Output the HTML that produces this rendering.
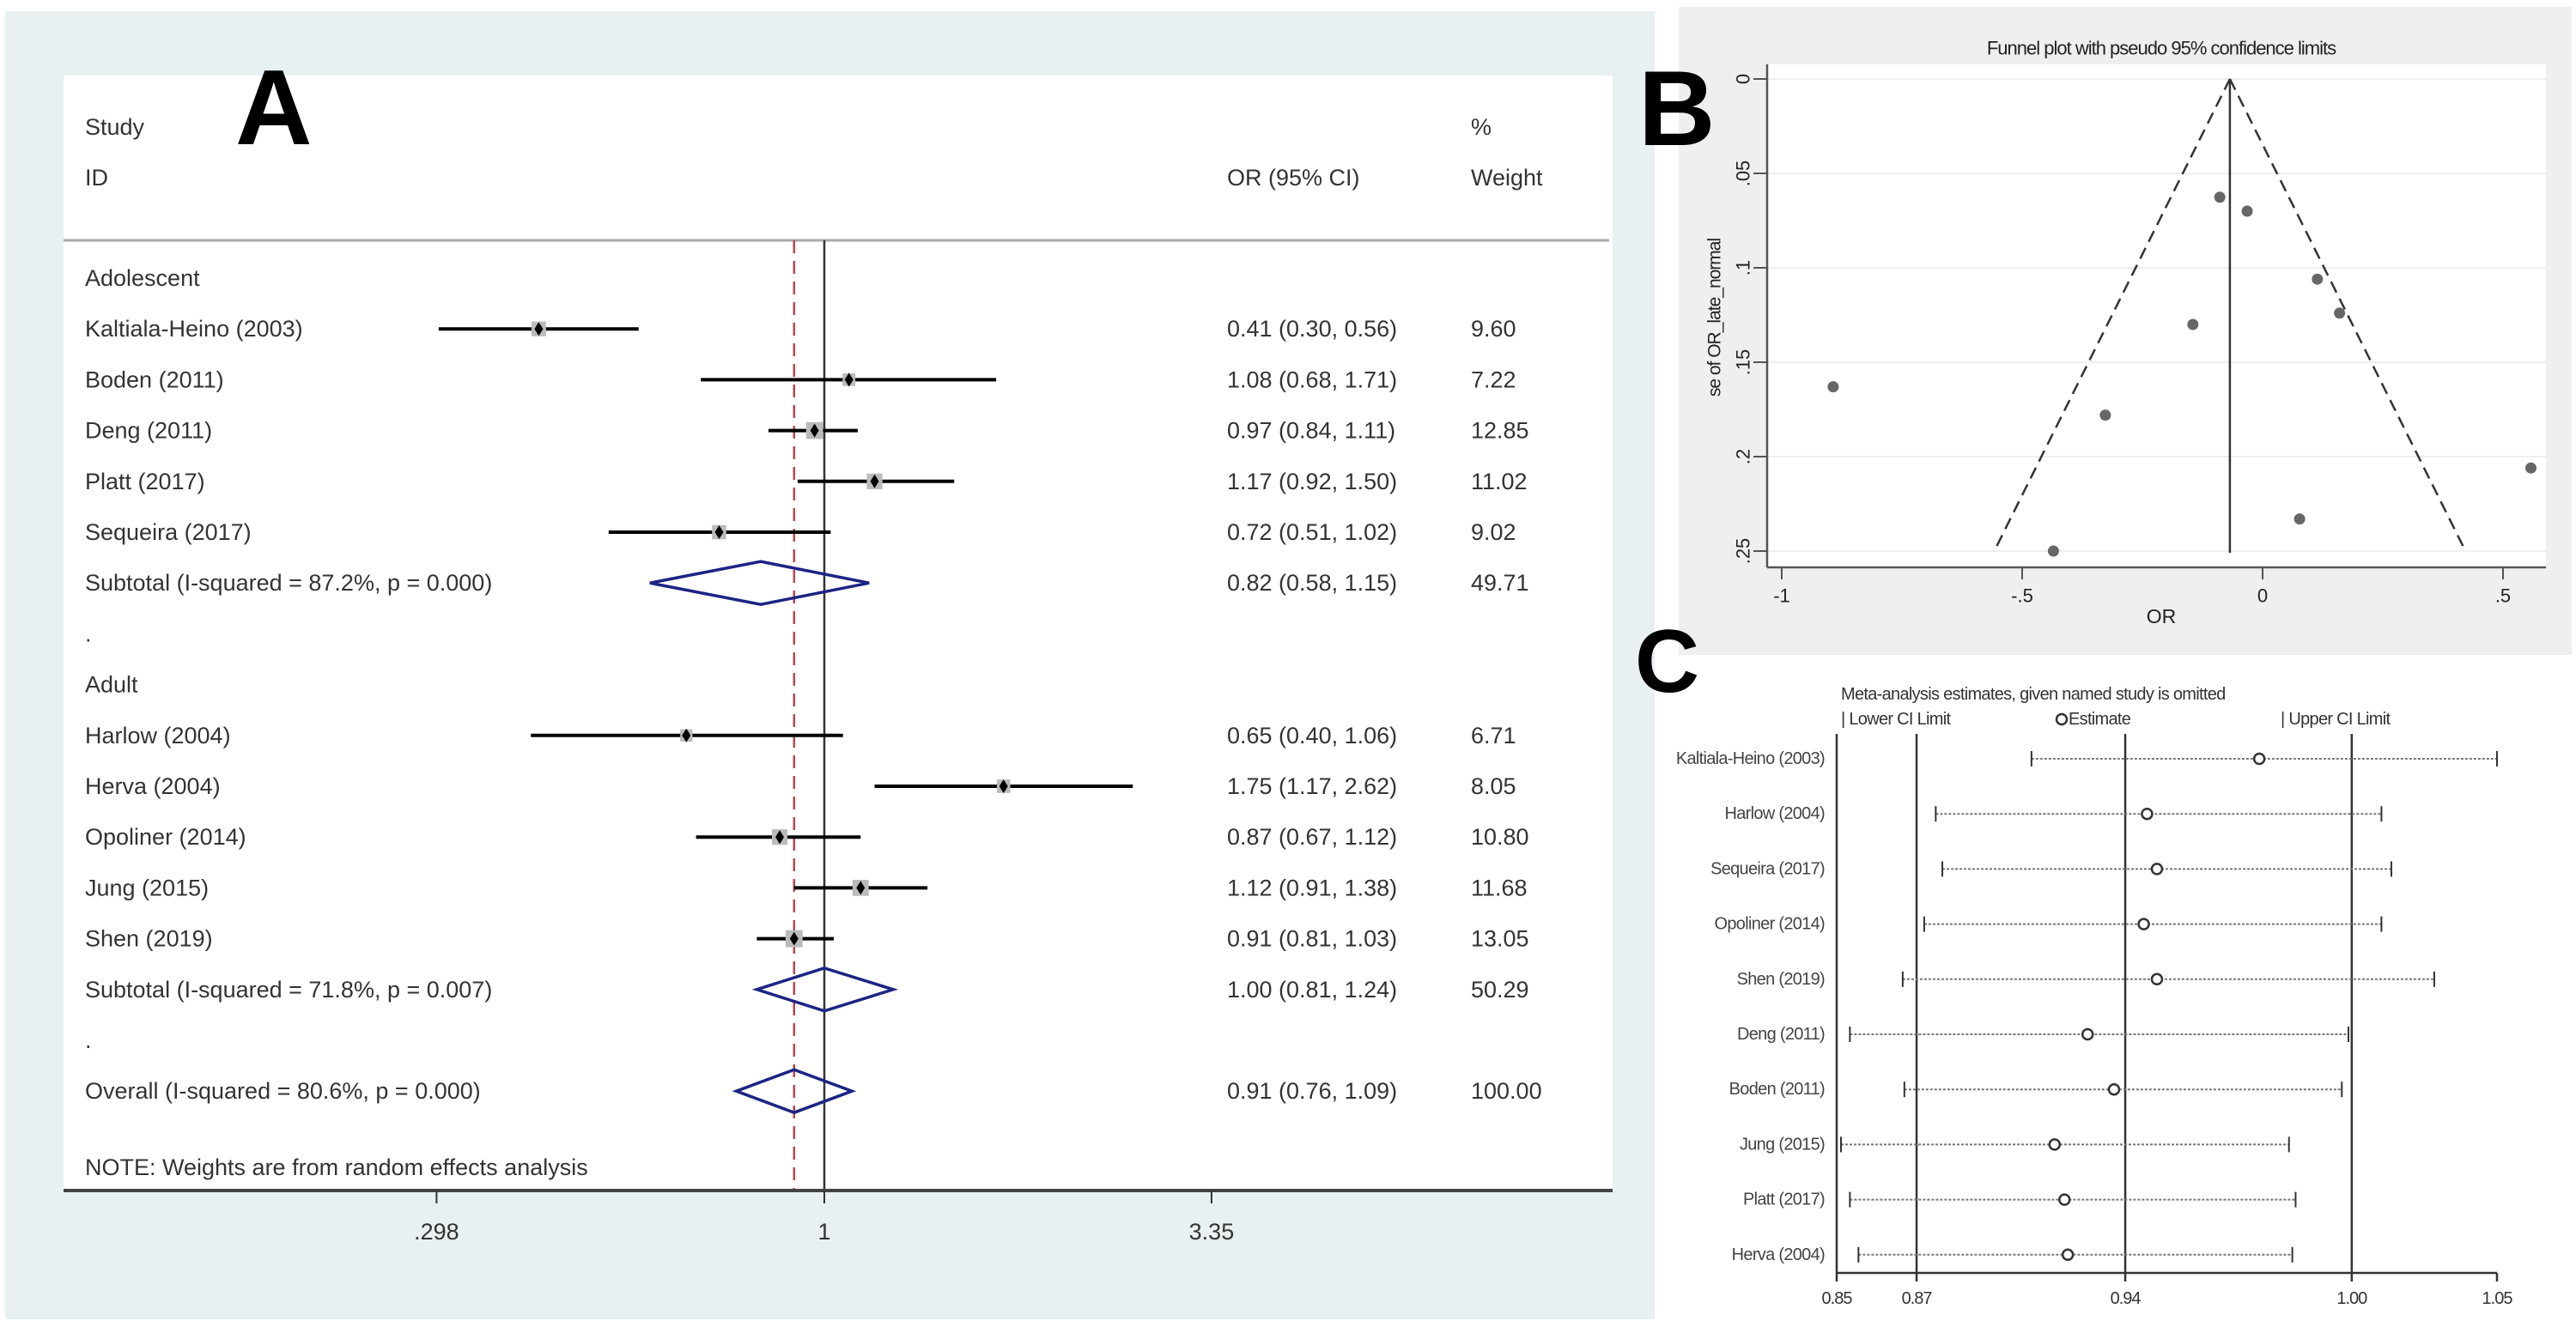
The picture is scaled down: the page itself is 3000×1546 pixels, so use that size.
<!DOCTYPE html>
<html><head><meta charset="utf-8"><style>
html,body{margin:0;padding:0;background:#fff;}
svg{display:block;font-family:"Liberation Sans",Arial,sans-serif;}
</style></head><body>
<svg id="fig" width="3000" height="1546" viewBox="0 0 3000 1546" xmlns="http://www.w3.org/2000/svg">
<rect x="0" y="0" width="3000" height="1546" fill="#fff"/>
<rect x="6" y="13" width="1921" height="1524" fill="#e8f0f2"/>
<rect x="74" y="88" width="1804" height="1299" fill="#fff"/>
<text x="274" y="168" font-size="124" font-weight="bold" fill="#000">A</text>
<rect x="1955" y="8" width="1040" height="755" fill="#efefef"/>
<rect x="2058" y="75" width="907" height="586" fill="#fff"/>
<text x="1908" y="169" font-size="124" font-weight="bold" fill="#000">B</text>
<text x="1904" y="806" font-size="104" font-weight="bold" fill="#000">C</text>
<g id="forest"></g>
<g id="funnel"></g>
<g id="influence"></g>
</svg>
<script>
// ---------- Panel A data ----------
const rowLabels = ["Adolescent","Kaltiala-Heino (2003)","Boden (2011)","Deng (2011)","Platt (2017)","Sequeira (2017)","Subtotal  (I-squared = 87.2%, p = 0.000)",".","Adult","Harlow (2004)","Herva (2004)","Opoliner (2014)","Jung (2015)","Shen (2019)","Subtotal  (I-squared = 71.8%, p = 0.007)",".","Overall  (I-squared = 80.6%, p = 0.000)"];
const rowType = ["h","s","s","s","s","s","d","b","h","s","s","s","s","s","d","b","d"];
const orEst = [null,0.41,1.08,0.97,1.17,0.72,0.82,null,null,0.65,1.75,0.87,1.12,0.91,1.00,null,0.91];
const orLow = [null,0.30,0.68,0.84,0.92,0.51,0.58,null,null,0.40,1.17,0.67,0.91,0.81,0.81,null,0.76];
const orHigh = [null,0.56,1.71,1.11,1.50,1.02,1.15,null,null,1.06,2.62,1.12,1.38,1.03,1.24,null,1.09];
const weights = [null,9.60,7.22,12.85,11.02,9.02,49.71,null,null,6.71,8.05,10.80,11.68,13.05,50.29,null,100.00];
const forestTicks = [0.298,1,3.35];
const forestTickLabels = [".298","1","3.35"];
const overallRef = 0.91;

// ---------- Panel B data ----------
const funnelOR = [-0.089,-0.032,0.114,0.160,-0.145,-0.893,-0.327,0.558,0.077,-0.435];
const funnelSE = [0.0626,0.070,0.106,0.124,0.130,0.163,0.178,0.206,0.233,0.250];
const funnelCenter = -0.068;
const funnelXTicks = [-1,-0.5,0,0.5];
const funnelXLabels = ["-1","-.5","0",".5"];
const funnelYTicks = [0,0.05,0.1,0.15,0.2,0.25];
const funnelYLabels = ["0",".05",".1",".15",".2",".25"];

// ---------- Panel C data ----------
const omitStudies = ["Kaltiala-Heino (2003)","Harlow (2004)","Sequeira (2017)","Opoliner (2014)","Shen (2019)","Deng (2011)","Boden (2011)","Jung (2015)","Platt (2017)","Herva (2004)"];
const omitLow = [0.909,0.880,0.882,0.8765,0.870,0.854,0.8705,0.8513,0.854,0.8566];
const omitEst = [0.978,0.944,0.947,0.943,0.947,0.926,0.934,0.916,0.919,0.920];
const omitHigh = [1.050,1.015,1.018,1.015,1.031,1.005,1.003,0.987,0.989,0.988];
const omitTicks = [0.85,0.8742,0.9374,1.006,1.05];
const omitTickLabels = ["0.85","0.87","0.94","1.00","1.05"];

const NS="http://www.w3.org/2000/svg";
function mk(parent,tag,attrs,txt){const e=document.createElementNS(NS,tag);for(const k in attrs)e.setAttribute(k,attrs[k]);if(txt!==undefined)e.textContent=txt;parent.appendChild(e);return e;}

// ===== Panel A =====
const fg=document.getElementById('forest');
const fx=v=>960+373*Math.log(v);
const fy=i=>324+59.2*i;
const tc="#333";
const FS=27;
let t;
t=mk(fg,'text',{x:99,y:148,'font-size':FS,fill:tc,'dominant-baseline':'central'},"Study");


t=mk(fg,'text',{x:99,y:207,'font-size':FS,fill:tc,'dominant-baseline':'central'},"ID");


t=mk(fg,'text',{x:1429,y:207,'font-size':FS,fill:tc,'dominant-baseline':'central'},"OR (95% CI)");


t=mk(fg,'text',{x:1713,y:148,'font-size':FS,fill:tc,'dominant-baseline':'central'},"%");


t=mk(fg,'text',{x:1713,y:207,'font-size':FS,fill:tc,'dominant-baseline':'central'},"Weight");


t=mk(fg,'line',{x1:74,y1:280,x2:1874,y2:280,stroke:'#aaa','stroke-width':3});


t=mk(fg,'line',{x1:fx(1),y1:280,x2:fx(1),y2:1387,stroke:'#333','stroke-width':2.5});


t=mk(fg,'line',{x1:fx(overallRef),y1:280,x2:fx(overallRef),y2:1387,stroke:'#b5484f','stroke-width':2.5,'stroke-dasharray':'15 9'});


rowLabels.forEach((lab,i)=>{
  const y=fy(i);
  const e=mk(fg,'text',{x:99,y:y,'font-size':FS,fill:tc,'dominant-baseline':'central'},lab);
  
  
  if(orEst[i]===null) return;
  const ci=mk(fg,'text',{x:1429,y:y,'font-size':FS,fill:tc,'dominant-baseline':'central'},orEst[i].toFixed(2)+" ("+orLow[i].toFixed(2)+", "+orHigh[i].toFixed(2)+")");
  
  
  const w=mk(fg,'text',{x:1713,y:y,'font-size':FS,fill:tc,'dominant-baseline':'central'},weights[i].toFixed(2));
  
  
  if(rowType[i]==='s'){
    const l=mk(fg,'line',{x1:fx(orLow[i]),y1:y,x2:fx(orHigh[i]),y2:y,stroke:'#000','stroke-width':4});
    
    
    const s=Math.sqrt(weights[i])*5.5;
    const sq=mk(fg,'rect',{x:fx(orEst[i])-s/2,y:y-s/2,width:s,height:s,fill:'#bbb'});
    
    
    const cx=fx(orEst[i]);
    const d=mk(fg,'polygon',{points:`${cx-5},${y} ${cx},${y-8} ${cx+5},${y} ${cx},${y+8}`,fill:'#000'});
    
    
  } else {
    const a=fx(orLow[i]),b=fx(orEst[i]),c=fx(orHigh[i]);
    const d=mk(fg,'polygon',{points:`${a},${y} ${b},${y-25} ${c},${y} ${b},${y+25}`,fill:'none',stroke:'#1c2484','stroke-width':3.5});
    
    
  }
});
t=mk(fg,'text',{x:99,y:1360,'font-size':FS,fill:tc,'dominant-baseline':'central'},"NOTE: Weights are from random effects analysis");


t=mk(fg,'line',{x1:74,y1:1387,x2:1878,y2:1387,stroke:'#444','stroke-width':4});


forestTicks.forEach((v,i)=>{
  const tk=mk(fg,'line',{x1:fx(v),y1:1387,x2:fx(v),y2:1402,stroke:'#333','stroke-width':2});
  
  
  const tl=mk(fg,'text',{x:fx(v),y:1435,'font-size':FS,fill:tc,'text-anchor':'middle','dominant-baseline':'central'},forestTickLabels[i]);
  
  
});

// ===== Panel B =====
const bg=document.getElementById('funnel');
const bx=v=>2635+560*v;
const by=s=>92+2200*s;
t=mk(bg,'text',{x:2517,y:56,'font-size':22,fill:'#222','text-anchor':'middle','dominant-baseline':'central','letter-spacing':'-1'},"Funnel plot with pseudo 95% confidence limits");


funnelYTicks.forEach((v,i)=>{
  const g=mk(bg,'line',{x1:2058,y1:by(v),x2:2965,y2:by(v),stroke:'#eee','stroke-width':2});
  
  
  const tk=mk(bg,'line',{x1:2042,y1:by(v),x2:2058,y2:by(v),stroke:'#555','stroke-width':2});
  
  
  const tl=mk(bg,'text',{x:2030,y:by(v),'font-size':22,fill:'#222','text-anchor':'middle','dominant-baseline':'central',transform:`rotate(-90 2030 ${by(v)})`},funnelYLabels[i]);
  
  
});
funnelXTicks.forEach((v,i)=>{
  const tk=mk(bg,'line',{x1:bx(v),y1:661,x2:bx(v),y2:675,stroke:'#555','stroke-width':2});
  
  
  const tl=mk(bg,'text',{x:bx(v),y:694,'font-size':22,fill:'#222','text-anchor':'middle','dominant-baseline':'central'},funnelXLabels[i]);
  
  
});
t=mk(bg,'line',{x1:2058,y1:75,x2:2058,y2:661,stroke:'#555','stroke-width':2.5});


t=mk(bg,'line',{x1:2058,y1:661,x2:2965,y2:661,stroke:'#555','stroke-width':2.5});


t=mk(bg,'text',{x:2517,y:718,'font-size':23,fill:'#222','text-anchor':'middle','dominant-baseline':'central'},"OR");


t=mk(bg,'text',{x:1997,y:370,'font-size':21,fill:'#222','text-anchor':'middle','dominant-baseline':'central',transform:'rotate(-90 1997 370)','letter-spacing':'-1'},"se of OR_late_normal");


const seMax=0.25;
t=mk(bg,'line',{x1:bx(funnelCenter),y1:by(0),x2:bx(funnelCenter-1.96*seMax),y2:by(seMax),stroke:'#333','stroke-width':2.5,'stroke-dasharray':'14 8'});


t=mk(bg,'line',{x1:bx(funnelCenter),y1:by(0),x2:bx(funnelCenter+1.96*seMax),y2:by(seMax),stroke:'#333','stroke-width':2.5,'stroke-dasharray':'14 8'});


t=mk(bg,'line',{x1:bx(funnelCenter),y1:by(0),x2:bx(funnelCenter),y2:by(seMax)+2,stroke:'#333','stroke-width':2.5});


funnelOR.forEach((v,i)=>{
  const c=mk(bg,'circle',{cx:bx(v),cy:by(funnelSE[i]),r:6.5,fill:'#666'});
  
  
});

// ===== Panel C =====
const cg=document.getElementById('influence');
const cx=v=>2139+(v-0.85)*3845;
const cy=i=>884+64.2*i;
const CF=20;
t=mk(cg,'text',{x:2144,y:809,'font-size':CF,fill:'#333','dominant-baseline':'central','letter-spacing':'-0.7'},"Meta-analysis estimates, given named study is omitted");


t=mk(cg,'text',{x:2144,y:838,'font-size':CF,fill:'#333','dominant-baseline':'central','letter-spacing':'-0.7'},"| Lower CI Limit");


t=mk(cg,'circle',{cx:2401,cy:838,r:6,fill:'none',stroke:'#333','stroke-width':2.5});


t=mk(cg,'text',{x:2409,y:838,'font-size':CF,fill:'#333','dominant-baseline':'central','letter-spacing':'-0.7'},"Estimate");


t=mk(cg,'text',{x:2656,y:838,'font-size':CF,fill:'#333','dominant-baseline':'central','letter-spacing':'-0.7'},"| Upper CI Limit");


omitTicks.forEach((v,i)=>{
  if(i>0&&i<4){
    const l=mk(cg,'line',{x1:cx(v),y1:855,x2:cx(v),y2:1483,stroke:'#333','stroke-width':2.5});
    
    
  }
  const tk=mk(cg,'line',{x1:cx(v),y1:1483,x2:cx(v),y2:1493,stroke:'#333','stroke-width':2.5});
  
  
  const tl=mk(cg,'text',{x:cx(v),y:1513,'font-size':20,fill:'#333','text-anchor':'middle','dominant-baseline':'central','letter-spacing':'-1'},omitTickLabels[i]);
  
  
});
t=mk(cg,'line',{x1:cx(0.85),y1:855,x2:cx(0.85),y2:1483,stroke:'#333','stroke-width':2.5});


t=mk(cg,'line',{x1:cx(0.85),y1:1483,x2:cx(1.05),y2:1483,stroke:'#333','stroke-width':2.5});


omitStudies.forEach((s,i)=>{
  const y=cy(i);
  const lab=mk(cg,'text',{x:2125,y:y,'font-size':CF,fill:'#444','text-anchor':'end','dominant-baseline':'central','letter-spacing':'-0.7'},s);
  
  
  const l=mk(cg,'line',{x1:cx(omitLow[i]),y1:y,x2:cx(omitHigh[i]),y2:y,stroke:'#777','stroke-width':2,'stroke-dasharray':'3 2'});
  
  
  const a=mk(cg,'line',{x1:cx(omitLow[i]),y1:y-9,x2:cx(omitLow[i]),y2:y+9,stroke:'#333','stroke-width':2});
  
  
  const b=mk(cg,'line',{x1:cx(omitHigh[i]),y1:y-9,x2:cx(omitHigh[i]),y2:y+9,stroke:'#333','stroke-width':2});
  
  
  const c=mk(cg,'circle',{cx:cx(omitEst[i]),cy:y,r:6,fill:'#fff',stroke:'#333','stroke-width':2.5});
  
  
});
</script>
</body></html>
